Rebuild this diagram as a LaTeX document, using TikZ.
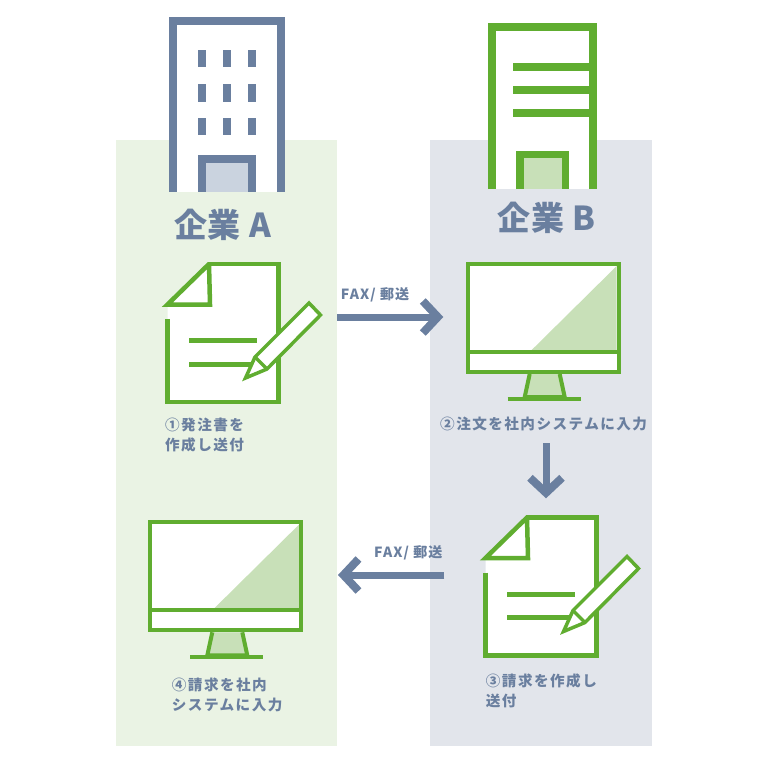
\documentclass[tikz,border=0pt]{standalone}
\usepackage{fontspec}
\setmainfont{Noto Sans CJK JP}
\newfontfamily\titlefont[LetterSpace=2]{Noto Sans CJK JP}
\newfontfamily\stepfont[LetterSpace=10]{Noto Sans CJK JP}
\newfontfamily\faxfont[LetterSpace=8]{Noto Sans CJK JP}
\usetikzlibrary{arrows.meta,positioning}

\definecolor{slateblue}{HTML}{6A7F9F}
\definecolor{leafgreen}{HTML}{60AD30}
\definecolor{paleleaf}{HTML}{C8E0B8}
\definecolor{paleslate}{HTML}{CAD3DF}
\definecolor{panelgreen}{HTML}{EAF3E4}
\definecolor{panelgrey}{HTML}{E2E5EB}

\tikzset{
  x=1pt, y=-1pt,
  titletext/.style={text=slateblue, font=\titlefont\bfseries\fontsize{33}{36}\selectfont, inner sep=0pt},
  steptext/.style={text=slateblue, font=\stepfont\bfseries\fontsize{14.6}{20}\selectfont, align=left, anchor=west, inner sep=0pt},
  faxtext/.style={text=slateblue, font=\faxfont\bfseries\fontsize{14}{16}\selectfont, inner sep=0pt},
  flowarrow/.style={draw=slateblue, line width=7pt,
    -{Straight Barb[length=15pt, width=32pt, line width=8pt, sharp]}},
  leafline/.style={draw=leafgreen, line width=#1},
  pics/paperpen/.style={code={
    \fill[white] (44,2) -- (113.5,2) -- (113.5,140) -- (2.5,140) -- (2.5,44) -- cycle;
    \draw[leafline=4.5pt] (2.5,57) -- (2.5,140) -- (113.5,140) -- (113.5,2) -- (44,2);
    \begin{scope}
      \clip (-5,0) rectangle (60,50);
      \draw[leafline=4.5pt, fill=white] (44,2) -- (45,42.5) -- (2.5,42.5) -- cycle;
    \end{scope}
    \draw[leafline=5pt] (24,78.5) -- (92,78.5);
    \draw[leafline=5pt] (24,102) -- (92,102);
    \draw[leafline=3.5pt, fill=white, line join=miter] (144,41) -- (155.5,53) -- (102,107) -- (80.5,116) -- (90,95) -- cycle;
    \draw[leafline=3.5pt] (90,95) -- (102,107);
  }},
  pics/deskscreen/.style={code={
    \fill[white] (2,2) rectangle (153,110);
    \fill[paleleaf] (151,4) -- (66,88) -- (151,88) -- cycle;
    \draw[leafline=4pt] (2,2) rectangle (153,110);
    \draw[leafline=4pt] (2,90) -- (153,90);
    \draw[leafline=4pt, fill=paleleaf] (64,112) -- (59,135) -- (99,135) -- (94,112);
    \draw[leafline=4pt] (42,136.5) -- (115,136.5);
  }},
}

\begin{document}
\begin{tikzpicture}
\useasboundingbox (0,0) rectangle (768,768);
\fill[white] (0,0) rectangle (768,768);

% panels
\fill[panelgreen] (116,140) rectangle (337,746);
\fill[panelgrey] (430,140) rectangle (652,746);

% company A
\draw[draw=slateblue, line width=8pt, fill=white, line join=miter] (172.5,191.7) -- (172.5,21.5) -- (281,21.5) -- (281,191.7);
\foreach \wx in {198,222.7,247.5}
  \foreach \wy in {50.3,84.3,118}
    \fill[slateblue] (\wx,\wy) rectangle +(8.3,17.2);
\draw[draw=slateblue, line width=8pt, fill=paleslate] (202,191.7) -- (202,159) -- (251.7,159) -- (251.7,191.7);

% company B
\draw[leafline=7.5pt, fill=white] (492,189) -- (492,26.8) -- (593,26.8) -- (593,189);
\foreach \ly in {67,90,113}
  \draw[leafline=7.5pt] (513,\ly) -- (590,\ly);
\draw[leafline=7.5pt, fill=paleleaf] (519.8,189) -- (519.8,154.5) -- (565.5,154.5) -- (565.5,189);

\node[titletext] (titleA) at (222.5,225) {企業 A};
\node[titletext] (titleB) at (546.5,218) {企業 B};

% icons
\pic at (165,262) {paperpen};
\pic at (465.7,262) {deskscreen};
\pic at (483,515.5) {paperpen};
\pic at (148.3,520.3) {deskscreen};

% step labels
\node[steptext] (step1) at (165,435) {①発注書を\\作成し送付};
\node[steptext] (step2) at (440,424) {②注文を社内システムに入力};
\node[steptext] (step3) at (485.7,690.5) {③請求を作成し\\送付};
\node[steptext] (step4) at (171.7,695) {④請求を社内\\システムに入力};

% arrows
\coordinate (a1) at (337.3,317);
\coordinate (b1) at (443.3,317);
\coordinate (b2) at (546,443.3);
\coordinate (c2) at (546,498.3);
\coordinate (b3) at (444.3,575);
\coordinate (a3) at (338,575);
\draw[flowarrow] (a1) -- (b1);
\draw[flowarrow] (b2) -- (c2);
\draw[flowarrow] (b3) -- (a3);

\node[faxtext] (fax1) at (375,295) {FAX/ 郵送};
\node[faxtext] (fax2) at (408.3,553) {FAX/ 郵送};
\end{tikzpicture}
\end{document}
